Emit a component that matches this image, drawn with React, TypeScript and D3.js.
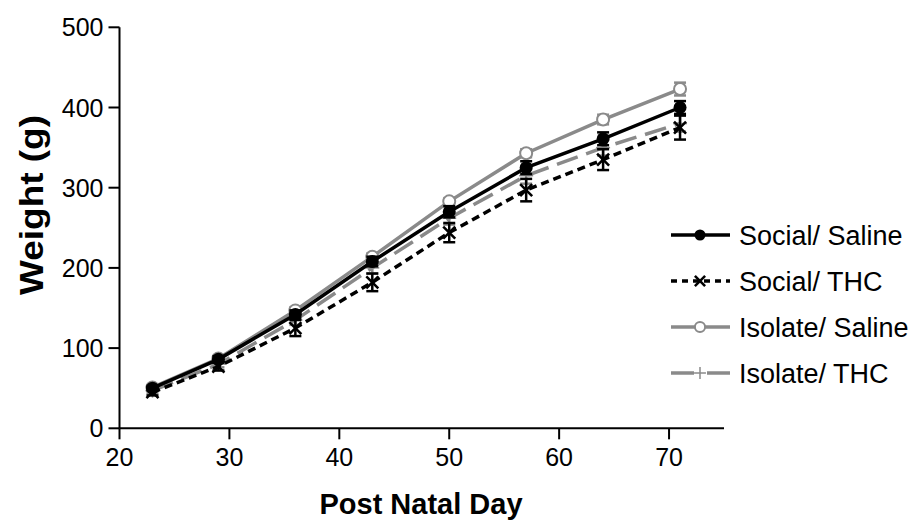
import React from "react";
import * as d3 from "d3";

const days = [23, 29, 36, 43, 50, 57, 64, 71];
const socialSaline = [50, 86, 142, 208, 270, 325, 361, 400];
const socialSalineErr = [3, 4, 5, 6, 7, 8, 8, 8];
const socialTHC = [45, 77, 125, 182, 244, 297, 335, 375];
const socialTHCErr = [4, 5, 10, 11, 12, 14, 13, 15];
const isolateSaline = [51, 87, 147, 214, 283, 343, 385, 423];
const isolateSalineErr = [3, 3, 4, 4, 4, 5, 6, 8];
const isolateTHC = [47, 80, 135, 200, 262, 315, 350, 380];
const isolateTHCErr = [3, 4, 6, 7, 8, 10, 10, 10];
const xTicks = [20, 30, 40, 50, 60, 70];
const yTicks = [0, 100, 200, 300, 400, 500];
const seriesNames = ["Social/ Saline", "Social/ THC", "Isolate/ Saline", "Isolate/ THC"];

const GRAY = "#8a8a8a";
const FONT = "'Liberation Sans', Arial, sans-serif";

type Style = { color: string; dash: string | null; marker: "dot" | "x" | "open" | "plus"; legendDash: string | null };

const styles: Style[] = [
  { color: "#000", dash: null, marker: "dot", legendDash: null },
  { color: "#000", dash: "8,5", marker: "x", legendDash: "6,5" },
  { color: GRAY, dash: null, marker: "open", legendDash: null },
  { color: GRAY, dash: "22,9", marker: "plus", legendDash: "23,13" },
];

function Marker({ type, x, y, color, small }: { type: string; x: number; y: number; color: string; small?: boolean }) {
  const k = small ? 0.85 : 1;
  if (type === "dot") return <circle cx={x} cy={y} r={6.5 * k} fill={color} />;
  if (type === "open") return <circle cx={x} cy={y} r={6 * k} fill="#fff" stroke={color} strokeWidth={2} />;
  if (type === "x") {
    const s = 6 * k;
    return (
      <g stroke={color} strokeWidth={2.5}>
        <line x1={x - s} y1={y - s} x2={x + s} y2={y + s} />
        <line x1={x - s} y1={y + s} x2={x + s} y2={y - s} />
      </g>
    );
  }
  const s = 7 * k;
  return (
    <g stroke={color} strokeWidth={1.5}>
      <line x1={x - s} y1={y} x2={x + s} y2={y} />
      <line x1={x} y1={y - s} x2={x} y2={y + s} />
    </g>
  );
}

export default function App() {
  const x = d3.scaleLinear().domain([20, 75]).range([119.5, 724]);
  const y = d3.scaleLinear().domain([0, 500]).range([428.3, 27.3]);

  const data = [
    { vals: socialSaline, err: socialSalineErr },
    { vals: socialTHC, err: socialTHCErr },
    { vals: isolateSaline, err: isolateSalineErr },
    { vals: isolateTHC, err: isolateTHCErr },
  ];
  const line = d3
    .line<number>()
    .x((_, i) => x(days[i]))
    .y((v) => y(v));

  const drawOrder = [2, 3, 0, 1];
  const legendY = [235, 281, 327, 373];

  return (
    <svg width={914} height={523} style={{ position: "absolute", left: 0, top: 0, background: "#fff" }} fontFamily={FONT}>
      <rect width={914} height={523} fill="#fff" />
      {/* axes */}
      <g stroke="#000" strokeWidth={2}>
        <line x1={x(20)} y1={y(0)} x2={x(75)} y2={y(0)} />
        <line x1={x(20)} y1={y(0)} x2={x(20)} y2={y(500)} />
        {xTicks.map((t) => (
          <line key={"xt" + t} x1={x(t)} x2={x(t)} y1={y(0)} y2={y(0) + 11} />
        ))}
        {yTicks.map((t) => (
          <line key={"yt" + t} x1={x(20) - 11} x2={x(20)} y1={y(t)} y2={y(t)} />
        ))}
      </g>
      {xTicks.map((t) => (
        <text key={"xl" + t} x={x(t)} y={y(0) + 38} textAnchor="middle" fontSize={25}>
          {t}
        </text>
      ))}
      {yTicks.map((t) => (
        <text key={"yl" + t} x={x(20) - 16} y={y(t) + 9} textAnchor="end" fontSize={25}>
          {t}
        </text>
      ))}
      <text x={421} y={514} textAnchor="middle" fontSize={29} fontWeight="bold">
        Post Natal Day
      </text>
      <text transform={`translate(43,205) rotate(-90) scale(1.12,1)`} textAnchor="middle" fontSize={33} fontWeight="bold">
        Weight (g)
      </text>

      {/* series */}
      {drawOrder.map((si) => {
        const s = styles[si];
        const d = data[si];
        return (
          <g key={"s" + si}>
            <path d={line(d.vals) || ""} fill="none" stroke={s.color} strokeWidth={3.5} strokeDasharray={s.dash || undefined} />
            {d.vals.map((v, i) => {
              const cx = x(days[i]);
              const top = y(v + d.err[i]);
              const bot = y(v - d.err[i]);
              return (
                <g key={i} stroke={s.color} strokeWidth={2.5}>
                  <line x1={cx} x2={cx} y1={top} y2={bot} />
                  <line x1={cx - 6} x2={cx + 6} y1={top} y2={top} />
                  <line x1={cx - 6} x2={cx + 6} y1={bot} y2={bot} />
                </g>
              );
            })}
            {d.vals.map((v, i) => (
              <Marker key={"m" + i} type={s.marker} x={x(days[i])} y={y(v)} color={s.color} />
            ))}
          </g>
        );
      })}

      {/* legend */}
      {seriesNames.map((name, i) => {
        const s = styles[i];
        const ly = legendY[i];
        return (
          <g key={"lg" + i}>
            <line x1={671} x2={730} y1={ly} y2={ly} stroke={s.color} strokeWidth={3.5} strokeDasharray={s.legendDash || undefined} />
            <Marker type={s.marker} x={700} y={ly} color={s.color} small />
            <text x={739} y={ly + 9.5} fontSize={27}>
              {name}
            </text>
          </g>
        );
      })}
    </svg>
  );
}
